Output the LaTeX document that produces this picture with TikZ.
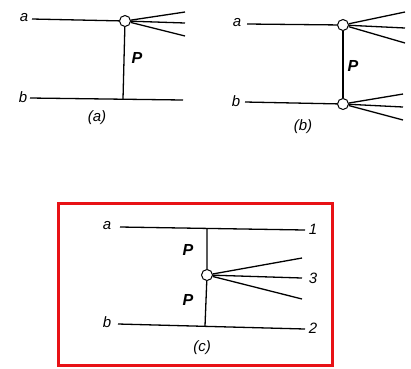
\documentclass[tikz,border=0pt]{standalone}
\usepackage{fontspec}
\setsansfont{Liberation Sans}
\definecolor{frame}{RGB}{232,18,22}

\begin{document}
\begin{tikzpicture}[x=1pt,y=-1pt,line width=1.3pt,
  vtx/.style={circle,draw,fill=white,line width=1pt,inner sep=0pt,minimum size=11pt},
  lbl/.style={font=\sffamily\itshape\fontsize{15}{18}\selectfont},
  prop/.style={font=\sffamily\bfseries\itshape\fontsize{16}{19}\selectfont}]
  \useasboundingbox (0,0) rectangle (411,368);
  % (a): one propagator, one blob
  \node[lbl] (la) at (24,18) {a};
  \node[lbl] (lb) at (23,97) {b};
  \coordinate (a0) at (32,19);
  \coordinate (b0) at (30,98);
  \coordinate (b1) at (183,100);
  \coordinate (pa) at (123,99);
  \node[vtx] (va) at (125,21) {};
  \draw (a0) -- (va);
  \foreach \i/\y in {1/12,2/23,3/36}{
    \coordinate (fa\i) at (185,\y);
    \draw (va) -- (fa\i);
  }
  \draw (va) -- (pa);
  \draw (b0) -- (b1);
  \node[prop] (pa1) at (137,58) {P};
  \node[lbl] (ca) at (97,118) {(a)};
  % (b): two blobs
  \node[lbl] (lba) at (237,23) {a};
  \node[lbl] (lbb) at (236,101) {b};
  \coordinate (ba0) at (247,24);
  \coordinate (bb0) at (245,102);
  \node[vtx] (vb1) at (343,25) {};
  \node[vtx] (vb2) at (343,104) {};
  \draw (ba0) -- (vb1);
  \draw (bb0) -- (vb2);
  \draw (vb1) -- (vb2);
  \foreach \i/\y in {1/12,2/28,3/43}{
    \coordinate (fb\i) at (405,\y);
    \draw (vb1) -- (fb\i);
  }
  \foreach \i/\y in {1/94,2/107,3/120}{
    \coordinate (gb\i) at (403,\y);
    \draw (vb2) -- (gb\i);
  }
  \node[prop] (pb1) at (353,66) {P};
  \node[lbl] (cb) at (303,127) {(b)};
  % (c): two propagators into one blob
  \draw[frame,line width=3pt] (58,203) rectangle (332,365);
  \node[lbl] (lca) at (107,226) {a};
  \node[lbl] (lcb) at (107,322) {b};
  \coordinate (ca0) at (120,227);
  \coordinate (ca1) at (305,230);
  \coordinate (cb0) at (118,324);
  \coordinate (cb1) at (305,329);
  \coordinate (pc1) at (207,228);
  \coordinate (pc2) at (205,326);
  \node[vtx] (vc) at (207,275) {};
  \draw (ca0) -- (ca1);
  \draw (cb0) -- (cb1);
  \draw (pc1) -- (vc) -- (pc2);
  \foreach \i/\y in {1/258,2/278,3/299}{
    \coordinate (fc\i) at (302,\y);
    \draw (vc) -- (fc\i);
  }
  \node[lbl] (n1) at (313,229) {1};
  \node[lbl] (n3) at (313,278) {3};
  \node[lbl] (n2) at (313,328) {2};
  \node[prop] (pc3) at (188,250) {P};
  \node[prop] (pc4) at (188,300) {P};
  \node[lbl] (cc) at (202,348) {(c)};
\end{tikzpicture}
\end{document}
